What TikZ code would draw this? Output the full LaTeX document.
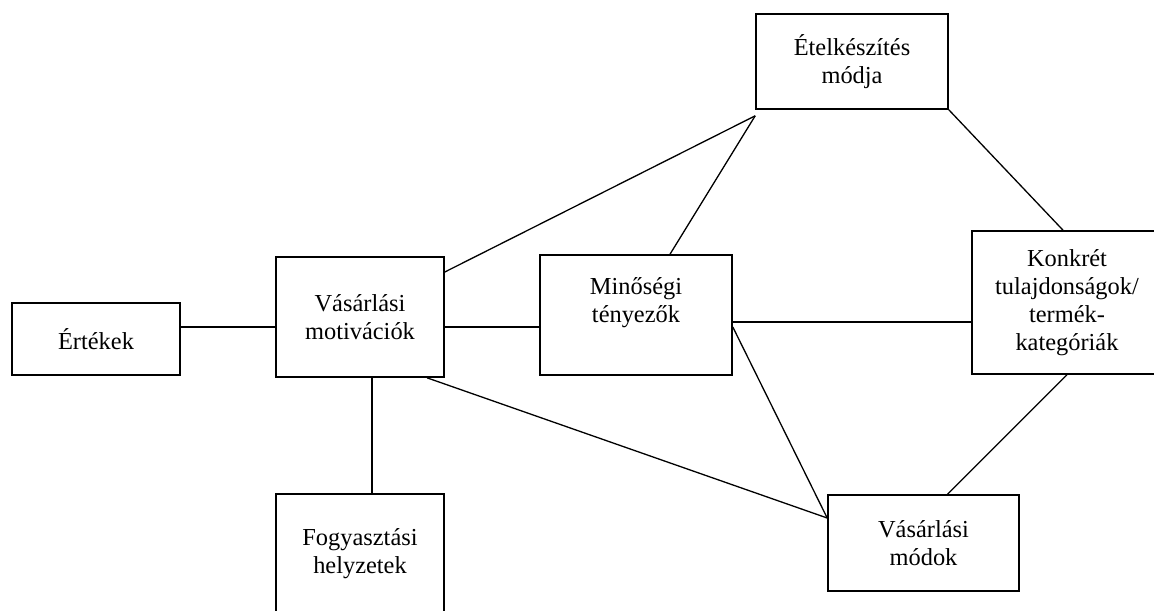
\documentclass[tikz,border=0pt]{standalone}
\usepackage{fontspec}
\setmainfont{Liberation Serif}
\usepackage{tikz}
\tikzset{>=latex}

\begin{document}
\begin{tikzpicture}[
            x=0.5pt, y=-0.5pt,
            doboz/.style={draw, line width=0.8pt, align=center, inner sep=0pt,
                font=\fontsize{12.2}{14}\selectfont},
            kapcs/.style={line width=0.65pt}
        ]
        \useasboundingbox (0,0) rectangle (1154,610);
        % left column
        \node[doboz, minimum width=84pt, minimum height=36pt] (ertekek) at (96,339) {Értékek};
        \node[doboz, minimum width=84pt, minimum height=60pt] (motiv) at (360,317) {Vásárlási\\motivációk};
        \node[doboz, minimum width=84pt, minimum height=60pt] (fogyaszt) at (360,554) {Fogyasztási\\helyzetek};
        % middle (text sits higher in this box)
        \node[doboz, minimum width=96pt, minimum height=60pt] (minoseg) at (636,315) {Minőségi\\tényezők\\[1pt]\mbox{}};
        \node[doboz, minimum width=96pt, minimum height=47.5pt] (etelkesz) at (852,61.5) {Ételkészítés\\módja};
        % right side
        \node[doboz, minimum width=95pt, minimum height=71.5pt] (konkret) at (1067,302.5) {Konkrét\\tulajdonságok/\\termék-\\kategóriák};
        \node[doboz, minimum width=95.5pt, minimum height=48pt] (vasmod) at (923.5,543) {Vásárlási\\módok};
        % values -> motivations -> quality
        \draw[kapcs] ([yshift=6pt]ertekek.east) -- ([yshift=6pt]ertekek.east -| motiv.west);
        \draw[kapcs] ([yshift=-5pt]motiv.east) -- ([yshift=-5pt]motiv.east -| minoseg.west);
        \draw[kapcs] ([xshift=6pt]motiv.south) -- ([xshift=6pt]motiv.south |- fogyaszt.north);
        % links to cooking
        \draw[kapcs] ([yshift=22.5pt]motiv.east) -- ([yshift=-3pt]etelkesz.south west);
        \draw[kapcs] ([xshift=17pt]minoseg.north) -- ([yshift=-3pt]etelkesz.south west);
        \draw[kapcs] (etelkesz.south east) -- ([xshift=-2pt]konkret.north);
        % links to shopping modes
        \draw[kapcs] ([yshift=-3.5pt]minoseg.east) -- ([yshift=-3.5pt]minoseg.east -| konkret.west);
        \draw[kapcs] ([yshift=-6pt]minoseg.east) -- ([yshift=12.5pt]vasmod.west);
        \draw[kapcs] ([xshift=33.5pt]motiv.south) -- ([yshift=12.5pt]vasmod.west);
        \draw[kapcs] (konkret.south) -- ([xshift=12pt]vasmod.north);
\end{tikzpicture}
\end{document}
